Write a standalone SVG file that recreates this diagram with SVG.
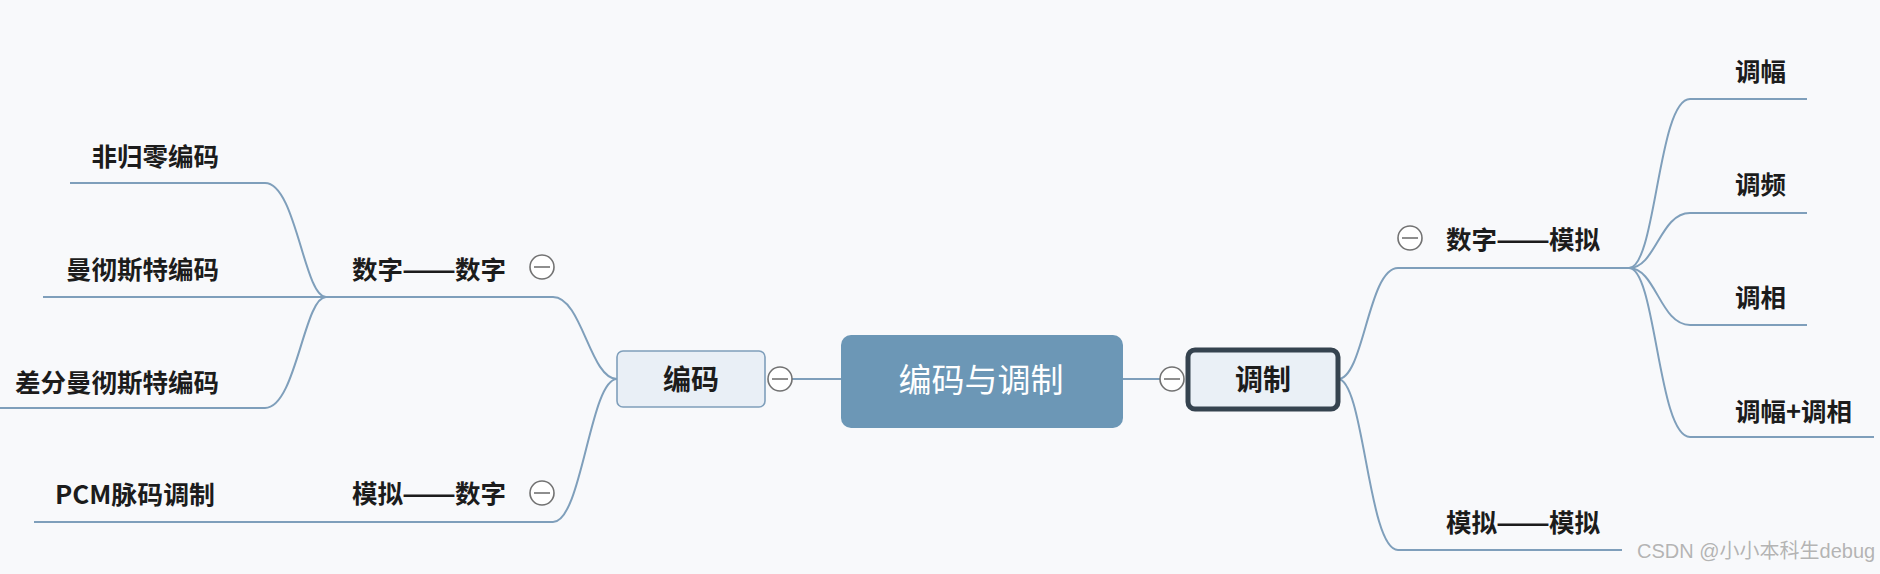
<svg xmlns="http://www.w3.org/2000/svg" width="1880" height="574" viewBox="0 0 1880 574">
  <style>
    .bg { fill: #f8f9fb; }
    .link { fill: none; stroke: #7f9fbb; stroke-width: 2; }
    .lbl { font-family: "Noto Sans CJK SC", "Noto Sans", sans-serif; font-weight: bold; font-size: 25.5px; fill: #1c1c1c; }
    .fold circle { fill: #ffffff; stroke: #727272; stroke-width: 1.6; }
    .fold line { stroke: #727272; stroke-width: 1.6; }
    .wm { font-family: "Liberation Sans", "Noto Sans CJK SC", sans-serif; font-size: 20px; fill: #b4b4b4; stroke: #ffffff; stroke-width: 0.6; paint-order: stroke; }
  </style>
  <defs>
    <g id="minus" class="fold">
      <circle cx="0" cy="0" r="12"/>
      <line x1="-8" y1="0" x2="8" y2="0"/>
    </g>
  </defs>
  <rect class="bg" x="0" y="0" width="1880" height="574"/>

  <g id="connectors">
    <path class="link" d="M326,297 C304,297 296,183 265,183 H70"/>
    <path class="link" d="M43,297 H553"/>
    <path class="link" d="M326,297 C304,297 296,408 265,408 H0"/>
    <path class="link" d="M553,297 C582,297 590,379 617,379"/>
    <path class="link" d="M34,522 H553 C582,522 590,379 617,379"/>
    <path class="link" d="M792,379 H841"/>
    <path class="link" d="M1123,379 H1160"/>
    <path class="link" d="M1338,379 C1364,379 1368,268 1398,268 H1629"/>
    <path class="link" d="M1338,379 C1364,379 1368,550 1398,550 H1622"/>
    <path class="link" d="M1629,268 C1656,268 1658,99 1690,99 H1807"/>
    <path class="link" d="M1629,268 C1656,268 1660,213 1690,213 H1807"/>
    <path class="link" d="M1629,268 C1656,268 1660,325 1690,325 H1807"/>
    <path class="link" d="M1629,268 C1656,268 1658,437 1690,437 H1874"/>
  </g>

  <g id="root">
    <rect x="841" y="335" width="282" height="93" rx="10" fill="#6c97b6"/>
    <text x="981" y="392" text-anchor="middle" font-family="Noto Sans CJK SC, sans-serif" font-size="33" fill="#ffffff">编码与调制</text>
  </g>

  <g id="node-bianma">
    <rect x="617" y="351" width="148" height="56" rx="6" fill="#e9eff6" stroke="#7f9fbb" stroke-width="1.6"/>
    <text class="lbl" x="691" y="390" text-anchor="middle" style="font-size:28px">编码</text>
    <use href="#minus" x="780" y="379"/>
  </g>

  <g id="node-tiaozhi">
    <rect x="1188" y="350" width="150" height="59" rx="7" fill="#eaf0f6" stroke="#35434f" stroke-width="5"/>
    <text class="lbl" x="1263" y="390" text-anchor="middle" style="font-size:28px">调制</text>
    <use href="#minus" x="1172" y="379"/>
  </g>

  <g id="node-sz-sz">
    <text class="lbl" x="352" y="279">数字<tspan x="402" textLength="54" lengthAdjust="spacingAndGlyphs">——</tspan><tspan x="455">数字</tspan></text>
    <use href="#minus" x="542" y="267"/>
  </g>
  <g id="node-mn-sz">
    <text class="lbl" x="352" y="503">模拟<tspan x="402" textLength="54" lengthAdjust="spacingAndGlyphs">——</tspan><tspan x="455">数字</tspan></text>
    <use href="#minus" x="542" y="493"/>
  </g>
  <g id="node-fgl">
    <text class="lbl" x="219" y="166" text-anchor="end">非归零编码</text>
  </g>
  <g id="node-mcst">
    <text class="lbl" x="219" y="279" text-anchor="end">曼彻斯特编码</text>
  </g>
  <g id="node-cfmcst">
    <text class="lbl" x="219" y="392" text-anchor="end">差分曼彻斯特编码</text>
  </g>
  <g id="node-pcm">
    <text class="lbl" x="55" y="504" textLength="160" lengthAdjust="spacingAndGlyphs">PCM脉码调制</text>
  </g>

  <g id="node-sz-mn">
    <text class="lbl" x="1446" y="249">数字<tspan x="1496" textLength="54" lengthAdjust="spacingAndGlyphs">——</tspan><tspan x="1549">模拟</tspan></text>
    <use href="#minus" x="1410" y="238"/>
  </g>
  <g id="node-mn-mn">
    <text class="lbl" x="1446" y="532">模拟<tspan x="1496" textLength="54" lengthAdjust="spacingAndGlyphs">——</tspan><tspan x="1549">模拟</tspan></text>
  </g>
  <g id="node-tf">
    <text class="lbl" x="1735" y="81">调幅</text>
  </g>
  <g id="node-tp">
    <text class="lbl" x="1735" y="194">调频</text>
  </g>
  <g id="node-tx">
    <text class="lbl" x="1735" y="307">调相</text>
  </g>
  <g id="node-tftx">
    <text class="lbl" x="1735" y="421">调幅+调相</text>
  </g>

  <text class="wm" x="1637" y="558">CSDN @小小本科生debug</text>
</svg>
